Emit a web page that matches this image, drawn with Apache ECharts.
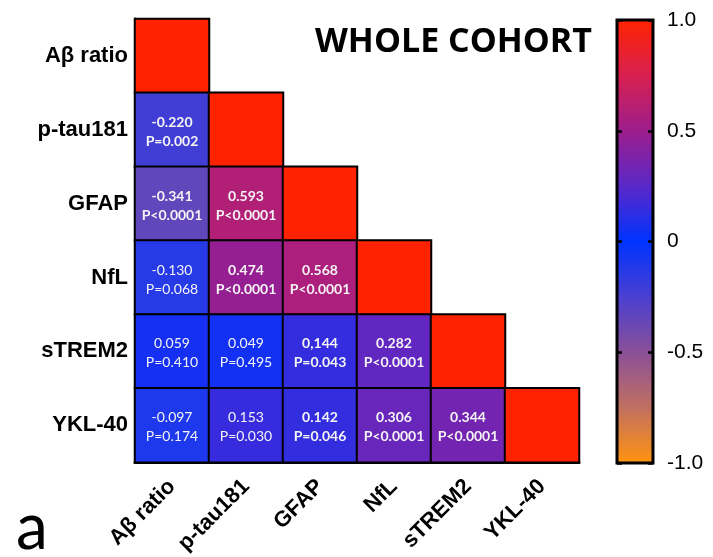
<!DOCTYPE html>
<html>
<head>
<meta charset="utf-8">
<script src="https://cdn.jsdelivr.net/npm/echarts@6/dist/echarts.min.js"></script>
<style>html,body{margin:0;padding:0;background:#fff;}#c{width:713px;height:557px;}</style>
</head>
<body>
<div id="c"></div>
<script>
// Markers (top to bottom on y, left to right on x)
const markers = ['Aβ ratio', 'p-tau181', 'GFAP', 'NfL', 'sTREM2', 'YKL-40'];
// Lower-triangle correlation coefficients, row by row (row i has i values)
const rValues = [
  [],
  [-0.220],
  [-0.341, 0.593],
  [-0.130, 0.474, 0.568],
  [0.059, 0.049, 0.144, 0.282],
  [-0.097, 0.153, 0.142, 0.306, 0.344]
];
// r text as printed in the figure
const rText = [
  [],
  ['-0.220'],
  ['-0.341', '0.593'],
  ['-0.130', '0.474', '0.568'],
  ['0.059', '0.049', '0,144', '0.282'],
  ['-0.097', '0.153', '0.142', '0.306', '0.344']
];
// p-value text
const pText = [
  [],
  ['P=0.002'],
  ['P<0.0001', 'P<0.0001'],
  ['P=0.068', 'P<0.0001', 'P<0.0001'],
  ['P=0.410', 'P=0.495', 'P=0.043', 'P<0.0001'],
  ['P=0.174', 'P=0.030', 'P=0.046', 'P<0.0001', 'P<0.0001']
];
// Bold (significant) flags
const boldFlags = [
  [],
  [true],
  [true, true],
  [false, true, true],
  [false, false, true, true],
  [false, false, true, true, true]
];
const diagValue = 1;
const scaleTickText = {'-1': '-1.0', '-0.5': '-0.5', '0': '0', '0.5': '0.5', '1': '1.0'};

const data = [];
for (let i = 0; i < markers.length; i++) {
  for (let j = 0; j < i; j++) {
    data.push({
      value: [j, i, rValues[i][j]],
      label: {
        show: true,
        fontWeight: boldFlags[i][j] ? 'bold' : 'normal',
        formatter: rText[i][j] + '\n' + pText[i][j]
      }
    });
  }
  data.push({ value: [i, i, diagValue], label: { show: false } });
}

const chart = echarts.init(document.getElementById('c'), null, { renderer: 'canvas' });
chart.setOption({
  animation: false,
  backgroundColor: '#fff',
  title: [
    {
      text: 'WHOLE COHORT', left: 315, top: 25, padding: 0,
      textStyle: { fontFamily: 'Open Sans', fontWeight: 'bold', fontSize: 34, color: '#000' }
    },
    {
      text: 'a', left: 16, top: 496, padding: 0,
      textStyle: { fontFamily: 'Lato', fontWeight: 'normal', fontSize: 64, color: '#000' }
    }
  ],
  grid: [
    { left: 135, top: 19, width: 444, height: 444 },
    { left: 617, top: 20, width: 36, height: 443, show: true, borderColor: '#000', borderWidth: 3, backgroundColor: 'transparent', z: 10 }
  ],
  xAxis: [
    {
      type: 'category', data: markers, gridIndex: 0,
      axisLine: { show: true, lineStyle: { color: '#000', width: 3 } },
      axisTick: { show: false },
      splitLine: { show: false },
      axisLabel: { rotate: 45, margin: 21, interval: 0, fontFamily: 'Liberation Sans', fontWeight: 'bold', fontSize: 22, color: '#000' }
    },
    { type: 'value', gridIndex: 1, show: false, min: 0, max: 1 }
  ],
  yAxis: [
    {
      type: 'category', data: markers, inverse: true, gridIndex: 0,
      axisLine: { show: true, lineStyle: { color: '#000', width: 3 } },
      axisTick: { show: false },
      splitLine: { show: false },
      axisLabel: { margin: 7, fontFamily: 'Liberation Sans', fontWeight: 'bold', fontSize: 22, color: '#000' }
    },
    {
      type: 'value', gridIndex: 1, position: 'right', min: -1, max: 1, interval: 0.5, z: 10,
      axisLine: { show: false, onZero: false },
      splitLine: { show: false },
      axisTick: { show: true, inside: true, length: 5, lineStyle: { color: '#000', width: 2.5 } },
      axisLabel: {
        margin: 14, fontFamily: 'Liberation Sans', fontSize: 21, color: '#000',
        formatter: v => scaleTickText[String(v)]
      }
    },
    {
      type: 'value', gridIndex: 1, position: 'left', min: -1, max: 1, interval: 0.5, z: 10,
      axisLine: { show: false, onZero: false },
      splitLine: { show: false },
      axisTick: { show: true, inside: true, length: 5, lineStyle: { color: '#000', width: 2.5 } },
      axisLabel: { show: false }
    }
  ],
  visualMap: {
    type: 'continuous', min: -1, max: 1, calculable: false, seriesIndex: 0, dimension: 2,
    orient: 'vertical', left: 617, top: 20, padding: 0, itemWidth: 36, itemHeight: 443,
    text: null, showLabel: false, hoverLink: false,
    inRange: {
      color: ['#ff9410', '#c07060', '#8a5098', '#4a40d0', '#0033ff', '#5a28c8', '#9c1e8c', '#d82050', '#ff2200']
    }
  },
  series: [{
    type: 'heatmap', xAxisIndex: 0, yAxisIndex: 0,
    data: data,
    itemStyle: { borderColor: '#000', borderWidth: 2 },
    label: { color: '#f4f4f4', fontFamily: 'Lato', fontSize: 14, lineHeight: 19, offset: [0, 2] },
    emphasis: { disabled: true }
  }]
});
</script>
</body>
</html>
